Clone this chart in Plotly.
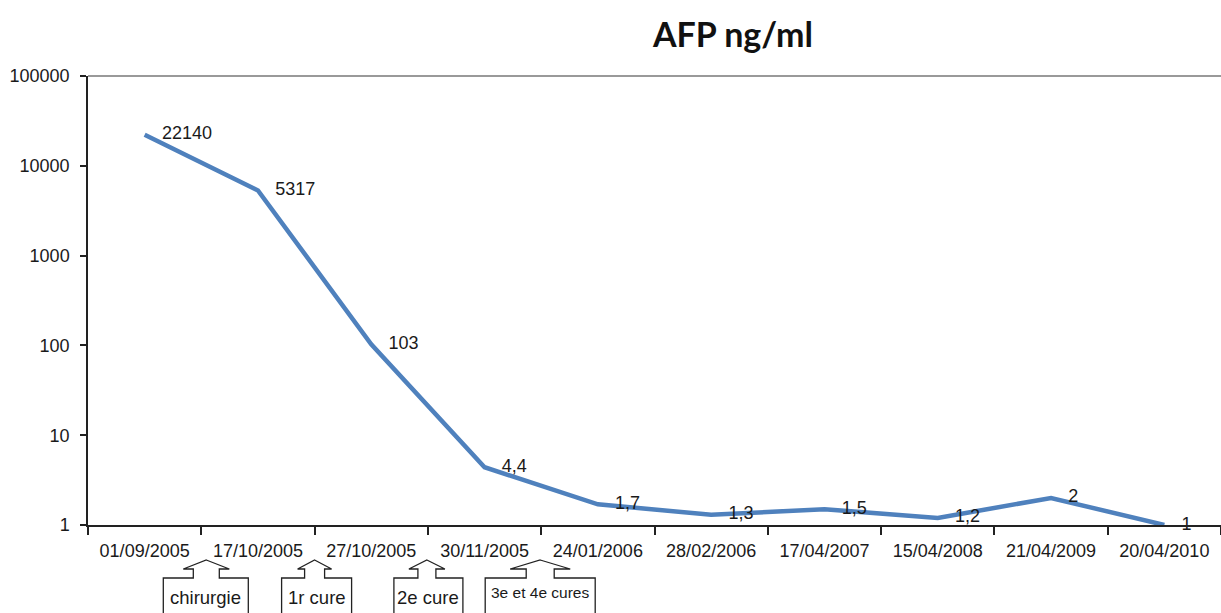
import plotly.graph_objects as go

# ---- data ----
dates = ["01/09/2005", "17/10/2005", "27/10/2005", "30/11/2005", "24/01/2006",
         "28/02/2006", "17/04/2007", "15/04/2008", "21/04/2009", "20/04/2010"]
afp = [22140, 5317, 103, 4.4, 1.7, 1.3, 1.5, 1.2, 2, 1]
afp_labels = ["22140", "5317", "103", "4,4", "1,7", "1,3", "1,5", "1,2", "2", "1"]
y_tick_vals = [1, 10, 100, 1000, 10000, 100000]
y_tick_text = ["1", "10", "100", "1000", "10000", "100000"]
events = ["chirurgie", "1r cure", "2e cure", "3e et 4e cures"]
event_boundary = [1, 2, 3, 4]  # boundary index between categories

# ---- styles for the callouts (pixel geometry) ----
callout_style = [
    dict(dx=5, head=23, shaft=13, box_l=-38, box_r=47, fs=18.5, ty=-72),
    dict(dx=0, head=17, shaft=10, box_l=-33, box_r=37, fs=18.5, ty=-72),
    dict(dx=-1, head=18, shaft=9, box_l=-34, box_r=35, fs=18.5, ty=-72),
    dict(dx=-1, head=30, shaft=14, box_l=-56, box_r=54, fs=15.5, ty=-67),
]

LINE_COLOR = "#4F81BD"
TXT = "#1a1a1a"
FONT = "Liberation Sans, Arial, sans-serif"

fig = go.Figure()
fig.add_trace(go.Scatter(
    x=dates, y=afp, mode="lines+markers+text",
    line=dict(color=LINE_COLOR, width=4.5),
    marker=dict(size=26, opacity=0),
    text=afp_labels, textposition="middle right",
    textfont=dict(family=FONT, size=18, color=TXT),
    hoverinfo="skip", cliponaxis=False, showlegend=False,
))

n = len(dates)
shapes = []
annotations = []
for ev, b, st in zip(events, event_boundary, callout_style):
    xa = b / n
    h, s, dx = st["head"], st["shaft"], st["dx"]
    tip, hb, bt, bb = -35, -44, -53, -100
    path = (f"M {dx},{tip} L {dx+h},{hb} L {dx+s},{hb} L {dx+s},{bt} "
            f"L {st['box_r']},{bt} L {st['box_r']},{bb} L {st['box_l']},{bb} "
            f"L {st['box_l']},{bt} L {dx-s},{bt} L {dx-s},{hb} L {dx-h},{hb} Z")
    shapes.append(dict(type="path", xref="paper", yref="paper",
                       xsizemode="pixel", ysizemode="pixel",
                       xanchor=xa, yanchor=0, path=path,
                       line=dict(color="#222222", width=1.3),
                       fillcolor="white", layer="above"))
    annotations.append(dict(text=ev, xref="paper", yref="paper", x=xa, y=0,
                            xshift=(st["box_l"] + st["box_r"]) / 2,
                            yshift=st["ty"],
                            xanchor="center", yanchor="middle", showarrow=False,
                            font=dict(family=FONT, size=st["fs"], color=TXT)))

# top border line of plot area
shapes.append(dict(type="line", xref="paper", yref="paper", x0=0, x1=1, y0=1, y1=1,
                   line=dict(color="#999999", width=2)))

fig.update_layout(
    width=1221, height=613,
    margin=dict(l=88, r=0, t=76, b=88),
    paper_bgcolor="white", plot_bgcolor="white",
    title=dict(text="<b>AFP ng/ml</b>", x=733 / 1221, xanchor="center",
               y=1 - 35 / 613, yanchor="middle", yref="container",
               font=dict(family="Lato, sans-serif", size=34, color="#111111")),
    xaxis=dict(type="category", tickson="boundaries", ticks="outside", ticklen=8,
               tickcolor="#222222", tickwidth=1.5,
               showline=True, linecolor="#222222", linewidth=1.5,
               showgrid=False, tickfont=dict(family=FONT, size=18, color=TXT),
               range=[-0.5, n - 0.5], ticklabelstandoff=9),
    yaxis=dict(type="log", range=[0, 5], tickvals=y_tick_vals, ticktext=y_tick_text,
               ticks="outside", ticklen=6, tickcolor="#222222", tickwidth=1.5,
               showline=True, linecolor="#222222", linewidth=1.5,
               showgrid=False, zeroline=False,
               tickfont=dict(family=FONT, size=18, color=TXT),
               ticklabelstandoff=7),
    shapes=shapes, annotations=annotations,
)

fig.write_html("out.html")
